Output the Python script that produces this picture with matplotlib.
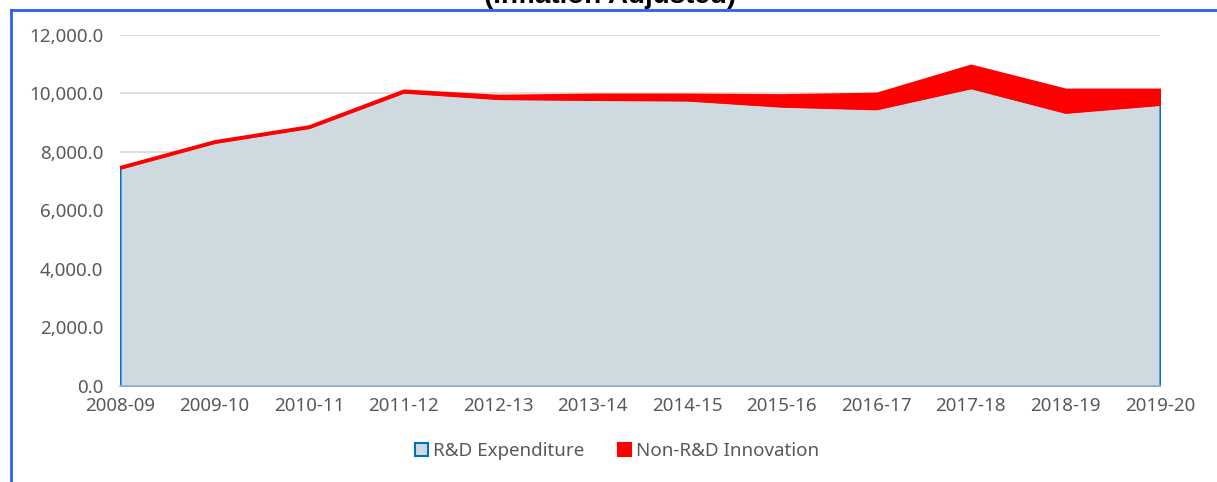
import matplotlib
matplotlib.use("Agg")
import matplotlib.pyplot as plt
from matplotlib.patches import Patch
from matplotlib.lines import Line2D
from matplotlib.ticker import FuncFormatter

years = ["2008-09", "2009-10", "2010-11", "2011-12", "2012-13", "2013-14",
         "2014-15", "2015-16", "2016-17", "2017-18", "2018-19", "2019-20"]
rd_expenditure = [7450, 8330, 8840, 10050, 9830, 9800, 9780, 9570, 9480, 10200, 9360, 9630]
non_rd_innovation = [40, 40, 40, 50, 90, 160, 180, 370, 510, 750, 770, 500]
title_text = "(Inflation Adjusted)"

W, H = 1217, 482
fig = plt.figure(figsize=(W / 100, H / 100), dpi=100)
ax = fig.add_axes([120 / W, (H - 386) / H, (1160 - 120) / W, (386 - 34.7) / H])

x = list(range(len(years)))
total = [a + b for a, b in zip(rd_expenditure, non_rd_innovation)]

ax.fill_between(x, 0, rd_expenditure, facecolor="#CFDAE0", edgecolor="#0070C0",
                linewidth=1.5, zorder=2)
ax.fill_between(x, rd_expenditure, total, facecolor="#FF0000", edgecolor="#FF0000",
                linewidth=2, zorder=3)

ax.set_xlim(0, len(years) - 1)
ax.set_ylim(0, 12000)
ax.set_yticks(range(0, 12001, 2000))
ax.yaxis.set_major_formatter(FuncFormatter(lambda v, p: f"{v:,.1f}"))
ax.set_xticks(x)
ax.set_xticklabels(years)

ax.grid(axis="y", color="#D9D9D9", linewidth=1.2, zorder=0)
ax.set_axisbelow(True)
for s in ["top", "right", "left"]:
    ax.spines[s].set_visible(False)
ax.spines["bottom"].set_color("#A9BCCB")
ax.spines["bottom"].set_linewidth(1.2)
ax.spines["bottom"].set_zorder(4)

tick_font = dict(family="Noto Sans", size=13.5, color="#595959")
ax.tick_params(axis="both", length=0, labelcolor="#595959", labelsize=13.5)
ax.tick_params(axis="y", pad=12)
ax.tick_params(axis="x", pad=8)
for lbl in ax.get_xticklabels() + ax.get_yticklabels():
    lbl.set_fontfamily("Noto Sans")

handles = [Patch(facecolor="#CFDAE0", edgecolor="#0070C0", linewidth=1.5, label="R&D Expenditure"),
           Patch(facecolor="#FF0000", edgecolor="#FF0000", linewidth=1.5, label="Non-R&D Innovation")]
leg = fig.legend(handles=handles, loc="center", bbox_to_anchor=(617 / W, (H - 451) / H),
                 ncol=2, frameon=False, handlelength=0.7, handleheight=0.7,
                 handletextpad=0.25, columnspacing=1.8,
                 prop=dict(family="Noto Sans", size=13.5))
for t in leg.get_texts():
    t.set_color("#595959")

fig.text(610 / W, (H - 3) / H, title_text, ha="center", va="baseline",
         fontsize=20, fontweight="bold", family="Liberation Sans", color="black")

fig.add_artist(Line2D([11 / W, 11 / W], [0, (H - 10) / H], transform=fig.transFigure,
                      color="#2A5FF0", linewidth=2))
fig.add_artist(Line2D([11 / W, 1], [(H - 10) / H, (H - 10) / H], transform=fig.transFigure,
                      color="#2A5FF0", linewidth=2))

fig.savefig("out.png", dpi=100)
